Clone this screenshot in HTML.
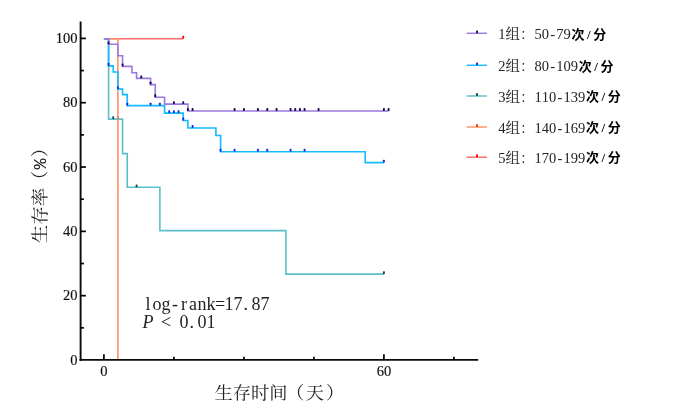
<!DOCTYPE html>
<html lang="zh"><head><meta charset="utf-8"><title>生存率</title>
<style>
html,body{margin:0;padding:0;background:#fff;}
body{width:675px;height:415px;position:relative;overflow:hidden;font-family:"Liberation Serif","Noto Serif CJK SC",serif;color:#111;}
svg{position:absolute;left:0;top:0;display:block;}
text{white-space:pre;}
.b{font-family:"Liberation Serif","Noto Sans CJK SC",sans-serif;font-weight:700;font-size:13px;fill:#000;}
</style></head><body>

<svg width="675" height="415" viewBox="0 0 675 415" style="position:absolute;left:0;top:0">
<defs><filter id="sf" x="-2%" y="-2%" width="104%" height="104%"><feGaussianBlur stdDeviation="0.4"/></filter></defs>
<g transform="translate(0,0.4)" filter="url(#sf)">
<path d="M103.9 38.3H183.24" fill="none" stroke="#ff6a6a" stroke-width="1.6" stroke-linejoin="miter"/>
<rect x="182.29" y="35.40" width="1.9" height="2.9" rx="0.6" fill="#ff0000"/>

<path d="M103.9 38.3H108.57V118.7H122.57V153.2H127.24V186.9H159.9V230.2H285.91V273.7H383.92" fill="none" stroke="#5abfc9" stroke-width="1.6" stroke-linejoin="miter"/>
<rect x="112.28" y="115.80" width="1.9" height="2.9" rx="0.6" fill="#0c4a52"/><rect x="116.95" y="115.80" width="1.9" height="2.9" rx="0.6" fill="#0c4a52"/><rect x="135.62" y="184.00" width="1.9" height="2.9" rx="0.6" fill="#0c4a52"/><rect x="382.97" y="270.80" width="1.9" height="2.9" rx="0.6" fill="#0c4a52"/>

<path d="M103.9 38.3H117.9V359.5H117.9" fill="none" stroke="#ff9068" stroke-width="1.6" stroke-linejoin="miter"/>


<path d="M103.9 38.3H108.57V65.5H113.23V71.6H117.9V88.7H122.57V94.2H127.24V105.2H164.57V112.7H183.24V120.1H187.91V127.6H215.91V135.1H220.57V151.3H365.25V162.2H383.92" fill="none" stroke="#12bbff" stroke-width="1.6" stroke-linejoin="miter"/>
<rect x="107.62" y="62.60" width="1.9" height="2.9" rx="0.6" fill="#1030e8"/><rect x="116.95" y="85.80" width="1.9" height="2.9" rx="0.6" fill="#1030e8"/><rect x="126.29" y="102.30" width="1.9" height="2.9" rx="0.6" fill="#1030e8"/><rect x="149.62" y="102.30" width="1.9" height="2.9" rx="0.6" fill="#1030e8"/><rect x="158.95" y="102.30" width="1.9" height="2.9" rx="0.6" fill="#1030e8"/><rect x="168.29" y="109.80" width="1.9" height="2.9" rx="0.6" fill="#1030e8"/><rect x="172.96" y="109.80" width="1.9" height="2.9" rx="0.6" fill="#1030e8"/><rect x="177.62" y="109.80" width="1.9" height="2.9" rx="0.6" fill="#1030e8"/><rect x="182.29" y="117.20" width="1.9" height="2.9" rx="0.6" fill="#1030e8"/><rect x="191.62" y="124.70" width="1.9" height="2.9" rx="0.6" fill="#1030e8"/><rect x="219.62" y="148.40" width="1.9" height="2.9" rx="0.6" fill="#1030e8"/><rect x="233.63" y="148.40" width="1.9" height="2.9" rx="0.6" fill="#1030e8"/><rect x="256.96" y="148.40" width="1.9" height="2.9" rx="0.6" fill="#1030e8"/><rect x="266.30" y="148.40" width="1.9" height="2.9" rx="0.6" fill="#1030e8"/><rect x="289.63" y="148.40" width="1.9" height="2.9" rx="0.6" fill="#1030e8"/><rect x="303.63" y="148.40" width="1.9" height="2.9" rx="0.6" fill="#1030e8"/><rect x="382.97" y="159.30" width="1.9" height="2.9" rx="0.6" fill="#1030e8"/>

<path d="M103.9 38.3H108.57V43.9H117.9V55.3H122.57V66.0H131.9V72.4H136.57V78.0H150.57V84.2H155.24V96.8H164.57V103.7H187.91V110.6H388.59" fill="none" stroke="#9b7add" stroke-width="1.6" stroke-linejoin="miter"/>
<rect x="107.62" y="41.00" width="1.9" height="2.9" rx="0.6" fill="#1b0f55"/><rect x="121.62" y="63.10" width="1.9" height="2.9" rx="0.6" fill="#1b0f55"/><rect x="140.29" y="75.10" width="1.9" height="2.9" rx="0.6" fill="#1b0f55"/><rect x="149.62" y="81.30" width="1.9" height="2.9" rx="0.6" fill="#1b0f55"/><rect x="154.29" y="93.90" width="1.9" height="2.9" rx="0.6" fill="#1b0f55"/><rect x="172.96" y="100.80" width="1.9" height="2.9" rx="0.6" fill="#1b0f55"/><rect x="182.29" y="100.80" width="1.9" height="2.9" rx="0.6" fill="#1b0f55"/><rect x="186.96" y="107.70" width="1.9" height="2.9" rx="0.6" fill="#1b0f55"/><rect x="191.62" y="107.70" width="1.9" height="2.9" rx="0.6" fill="#1b0f55"/><rect x="233.63" y="107.70" width="1.9" height="2.9" rx="0.6" fill="#1b0f55"/><rect x="242.96" y="107.70" width="1.9" height="2.9" rx="0.6" fill="#1b0f55"/><rect x="256.96" y="107.70" width="1.9" height="2.9" rx="0.6" fill="#1b0f55"/><rect x="266.30" y="107.70" width="1.9" height="2.9" rx="0.6" fill="#1b0f55"/><rect x="275.63" y="107.70" width="1.9" height="2.9" rx="0.6" fill="#1b0f55"/><rect x="289.63" y="107.70" width="1.9" height="2.9" rx="0.6" fill="#1b0f55"/><rect x="294.30" y="107.70" width="1.9" height="2.9" rx="0.6" fill="#1b0f55"/><rect x="298.96" y="107.70" width="1.9" height="2.9" rx="0.6" fill="#1b0f55"/><rect x="303.63" y="107.70" width="1.9" height="2.9" rx="0.6" fill="#1b0f55"/><rect x="317.63" y="107.70" width="1.9" height="2.9" rx="0.6" fill="#1b0f55"/><rect x="382.97" y="107.70" width="1.9" height="2.9" rx="0.6" fill="#1b0f55"/><rect x="387.64" y="107.70" width="1.9" height="2.9" rx="0.6" fill="#1b0f55"/>

</g>
<g stroke="#0a0a0a" stroke-width="1.9" fill="none" stroke-linecap="butt">
<path d="M80.6 21.6V360.9"/>
<path d="M79.6 359.9H478.2"/>
</g><g stroke="#000" stroke-width="1.7" fill="none">
<path d="M80.6 327.84h3.3"/>
<path d="M80.6 295.68h5.3"/>
<path d="M80.6 263.52h3.3"/>
<path d="M80.6 231.36h5.3"/>
<path d="M80.6 199.2h3.3"/>
<path d="M80.6 167.04h5.3"/>
<path d="M80.6 134.88h3.3"/>
<path d="M80.6 102.72h5.3"/>
<path d="M80.6 70.56h3.3"/>
<path d="M80.6 38.4h5.3"/>
<path d="M103.9 359.9v-5.6"/>
<path d="M173.91 359.9v-3.2"/>
<path d="M243.91 359.9v-3.2"/>
<path d="M313.91 359.9v-3.2"/>
<path d="M383.92 359.9v-5.6"/>
<path d="M453.92 359.9v-3.2"/>
</g>
<g filter="url(#sf)">
<path d="M466.6 33.3H486.9" stroke="#9b7add" stroke-width="1.45"/>
<rect x="476.1" y="30.40" width="1.9" height="2.9" rx="0.6" fill="#1b0f55"/>
<path d="M466.6 65.3H486.9" stroke="#12bbff" stroke-width="1.45"/>
<rect x="476.1" y="62.40" width="1.9" height="2.9" rx="0.6" fill="#1030e8"/>
<path d="M466.6 96.0H486.9" stroke="#5abfc9" stroke-width="1.45"/>
<rect x="476.1" y="93.10" width="1.9" height="2.9" rx="0.6" fill="#0c4a52"/>
<path d="M466.6 127.0H486.9" stroke="#ff9068" stroke-width="1.45"/>
<rect x="476.1" y="124.10" width="1.9" height="2.9" rx="0.6" fill="#ff3a00"/>
<path d="M466.6 157.2H486.9" stroke="#ff6a6a" stroke-width="1.45"/>
<rect x="476.1" y="154.30" width="1.9" height="2.9" rx="0.6" fill="#ff0000"/>
</g>
<defs><filter id="tf" x="-5%" y="-5%" width="110%" height="110%"><feGaussianBlur stdDeviation="0.3"/></filter></defs>
<g filter="url(#tf)" font-family='"Liberation Serif","Noto Serif CJK SC",serif' fill="#111">
<g font-size="14.5" stroke="#111" stroke-width="0.15">
<text x="77.5" y="364.65" text-anchor="end">0</text>
<text x="77.5" y="300.33" text-anchor="end">20</text>
<text x="77.5" y="236.01" text-anchor="end">40</text>
<text x="77.5" y="171.69" text-anchor="end">60</text>
<text x="77.5" y="107.37" text-anchor="end">80</text>
<text x="77.5" y="43.05" text-anchor="end">100</text>
<text x="103.9" y="375.8" text-anchor="middle">0</text>
<text x="383.92" y="375.8" text-anchor="middle">60</text>
</g>
<text transform="translate(0,399.2) scale(1,0.96)" font-size="18.25" fill="#222" text-anchor="middle" x="223.53 241.78 260.02 278.27 295.1 314.8 335.1" y="0">生存时间（天）</text>
<text transform="translate(45.7,243.3) rotate(-90) scale(1,0.95)" font-size="18.5" fill="#222" font-family='"Liberation Mono","Noto Serif CJK SC",serif' text-anchor="middle" x="9.25 27.75 46.25 63.35 79.3 95.4" y="0">生存率（%）</text>
<text font-size="18" fill="#222" text-anchor="middle" x="148 157 166 175 184 193 202 211 220 229 238 245.83 256 265" y="309.6">log-rank=17.87</text>
<text font-size="18" fill="#222" text-anchor="middle" x="148 157 166 175 184 191.83 202 211" y="328.3"><tspan font-style="italic">P</tspan> &lt; 0.01</text>
<g font-size="14.5" fill="#222" text-anchor="middle">
<text x="501.93 512.8 527.3 538.17 545.42 552.67 559.92 567.17 578.05 588.92 599.8" y="39.10">1组：50-79<tspan class="b" dy="-0.6">次/分</tspan></text>
<text x="501.93 512.8 527.3 538.17 545.42 552.67 559.92 567.17 574.42 585.3 596.17 607.05" y="71.10">2组：80-109<tspan class="b" dy="-0.6">次/分</tspan></text>
<text x="501.93 512.8 527.3 538.17 545.42 552.67 559.92 567.17 574.42 581.67 592.55 603.42 614.3" y="101.80">3组：110-139<tspan class="b" dy="-0.6">次/分</tspan></text>
<text x="501.93 512.8 527.3 538.17 545.42 552.67 559.92 567.17 574.42 581.67 592.55 603.42 614.3" y="132.80">4组：140-169<tspan class="b" dy="-0.6">次/分</tspan></text>
<text x="501.93 512.8 527.3 538.17 545.42 552.67 559.92 567.17 574.42 581.67 592.55 603.42 614.3" y="163.00">5组：170-199<tspan class="b" dy="-0.6">次/分</tspan></text>
</g>
</g>
</svg>
</body></html>
